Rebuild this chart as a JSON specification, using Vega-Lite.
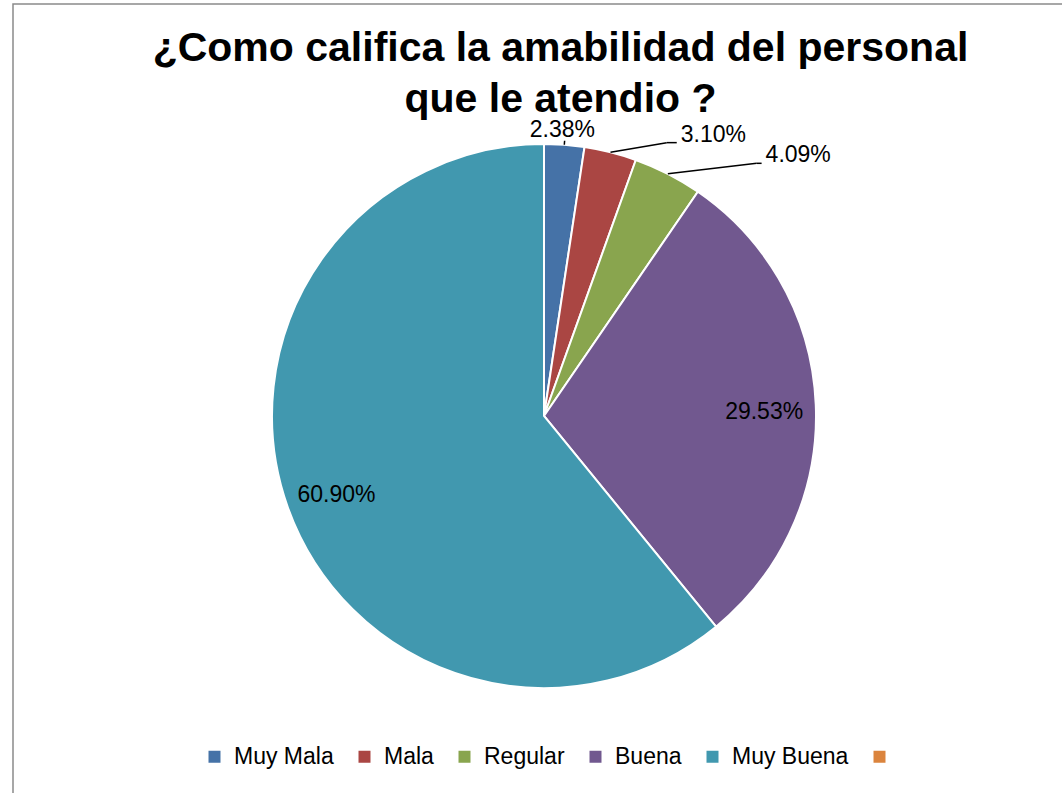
{
  "$schema": "https://vega.github.io/schema/vega-lite/v6.json",
  "width": 1051,
  "height": 792,
  "autosize": {"type": "none"},
  "padding": {"left": 13, "top": 4, "right": 0, "bottom": 0},
  "background": "white",
  "config": {
    "view": {"stroke": "#8a8a8a", "strokeWidth": 1.5},
    "font": "Liberation Sans"
  },
  "title": {
    "text": ["¿Como califica la amabilidad del personal", "que le atendio ?"],
    "font": "Liberation Sans",
    "fontSize": 41,
    "fontWeight": "bold",
    "color": "#000000",
    "anchor": "middle",
    "baseline": "alphabetic",
    "lineHeight": 51,
    "dx": 22,
    "dy": 153
  },
  "data": {
    "values": [
      {"cat": "Muy Mala", "value": 2.38, "idx": 1},
      {"cat": "Mala", "value": 3.10, "idx": 2},
      {"cat": "Regular", "value": 4.09, "idx": 3},
      {"cat": "Buena", "value": 29.53, "idx": 4},
      {"cat": "Muy Buena", "value": 60.90, "idx": 5},
      {"cat": "", "value": 0, "idx": 6}
    ]
  },
  "transform": [
    {"window": [{"op": "sum", "field": "value", "as": "cum"}], "sort": [{"field": "idx", "order": "ascending"}], "frame": [null, 0]},
    {"joinaggregate": [{"op": "sum", "field": "value", "as": "total"}]},
    {"calculate": "2*PI*(datum.cum - datum.value/2)/datum.total", "as": "mid"},
    {"calculate": "sin(datum.mid)", "as": "sx"},
    {"calculate": "cos(datum.mid)", "as": "sy"},
    {"calculate": "format(datum.value, '.2f') + '%'", "as": "label"},
    {"calculate": "datum.cat == 'Mala' ? 0.451 : datum.cat == 'Regular' ? 0.782 : 1.015*datum.sx", "as": "ex"},
    {"calculate": "datum.cat == 'Mala' ? 1.005 : datum.cat == 'Regular' ? 0.929 : 1.015*datum.sy", "as": "ey"},
    {"calculate": "datum.cat == 'Mala' ? 0.488 : datum.cat == 'Regular' ? 0.80 : datum.ex", "as": "hx"}
  ],
  "layer": [
    {
      "mark": {"type": "arc", "outerRadius": 272, "stroke": "white", "strokeWidth": 2},
      "encoding": {
        "theta": {"field": "value", "type": "quantitative", "stack": true},
        "order": {"field": "idx", "type": "quantitative"},
        "x": {"datum": 0, "type": "quantitative", "scale": {"domain": [-1.95221, 1.91176], "nice": false, "zero": false}, "axis": null},
        "y": {"datum": 0, "type": "quantitative", "scale": {"domain": [-1.39706, 1.51471], "nice": false, "zero": false}, "axis": null},
        "color": {
          "field": "cat",
          "type": "nominal",
          "scale": {
            "domain": ["Muy Mala", "Mala", "Regular", "Buena", "Muy Buena", ""],
            "range": ["#4572A7", "#AA4643", "#89A54E", "#71588F", "#4198AF", "#DB843D"]
          },
          "legend": {
            "title": null,
            "orient": "none",
            "legendX": 190,
            "legendY": 741,
            "direction": "horizontal",
            "columns": 6,
            "symbolType": "square",
            "symbolSize": 144,
            "symbolStrokeWidth": 0,
            "labelFont": "Liberation Sans",
            "labelFontSize": 23,
            "labelColor": "#000000",
            "labelOffset": 8,
            "columnPadding": 19,
            "padding": 0
          }
        }
      }
    },
    {
      "transform": [
        {"filter": "datum.idx == 4 || datum.idx == 5"},
        {"calculate": "0.81*datum.sx", "as": "tx"},
        {"calculate": "0.81*datum.sy", "as": "ty"}
      ],
      "mark": {"type": "text", "align": "center", "baseline": "middle", "fontSize": 23, "font": "Liberation Sans", "color": "#000000", "dy": 5},
      "encoding": {
        "x": {"field": "tx", "type": "quantitative"},
        "y": {"field": "ty", "type": "quantitative"},
        "text": {"field": "label"}
      }
    },
    {
      "transform": [
        {"filter": "datum.idx == 1"},
        {"calculate": "1.055*datum.sx", "as": "tx"},
        {"calculate": "1.055*datum.sy", "as": "ty"}
      ],
      "mark": {"type": "text", "align": "center", "baseline": "middle", "fontSize": 23, "font": "Liberation Sans", "color": "#000000", "dx": -3},
      "encoding": {
        "x": {"field": "tx", "type": "quantitative"},
        "y": {"field": "ty", "type": "quantitative"},
        "text": {"field": "label"}
      }
    },
    {
      "transform": [{"filter": "datum.idx == 2 || datum.idx == 3"}],
      "mark": {"type": "text", "align": "left", "baseline": "middle", "fontSize": 23, "font": "Liberation Sans", "color": "#000000", "dx": 4, "dy": -8},
      "encoding": {
        "x": {"field": "hx", "type": "quantitative"},
        "y": {"field": "ey", "type": "quantitative"},
        "text": {"field": "label"}
      }
    },
    {
      "transform": [{"filter": "datum.idx <= 3"}],
      "mark": {"type": "rule", "color": "#000000", "strokeWidth": 1.5},
      "encoding": {
        "x": {"field": "sx", "type": "quantitative"},
        "y": {"field": "sy", "type": "quantitative"},
        "x2": {"field": "ex"},
        "y2": {"field": "ey"}
      }
    },
    {
      "transform": [{"filter": "datum.idx == 2 || datum.idx == 3"}],
      "mark": {"type": "rule", "color": "#000000", "strokeWidth": 1.5},
      "encoding": {
        "x": {"field": "ex", "type": "quantitative"},
        "x2": {"field": "hx"},
        "y": {"field": "ey", "type": "quantitative"}
      }
    }
  ]
}
